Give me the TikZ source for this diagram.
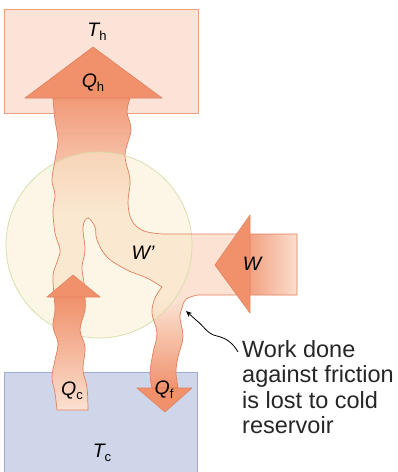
\documentclass[tikz,border=0pt]{standalone}
\usepackage{fontspec}
\setmainfont{Liberation Sans}
\usetikzlibrary{arrows.meta}
\definecolor{salmon}{RGB}{240,145,108}
\definecolor{salmonedge}{RGB}{226,128,94}
\definecolor{lightpk}{RGB}{251,226,210}
\definecolor{hotfill}{RGB}{251,227,215}
\definecolor{hotedge}{RGB}{236,160,130}
\definecolor{coldfill}{RGB}{207,214,233}
\definecolor{coldedge}{RGB}{158,172,206}
\definecolor{ringfill}{RGB}{250,238,208}
\definecolor{ringedge}{RGB}{214,221,166}
\newcommand{\lbl}[2]{{\fontsize{19.5}{19.5}\selectfont\itshape #1}\raisebox{-3.5pt}{\fontsize{13}{13}\selectfont #2}}
\newcommand{\engoutline}{plot[smooth,tension=0.6] coordinates {(57,410) (55,393) (52,377) (55,360) (58,343) (53,327) (55,310) (54,295) (53,275) (57,262) (60,250) (55,233) (53,210) (55,195) (52,180) (55,160) (58,140) (55,120) (53,98)}
 -- (130,98)
 -- plot[smooth,tension=0.6] coordinates {(130,98) (127,112) (131,130) (125,155) (130,180) (128,203) (132,221) (144,231) (163,234)}
 -- (297,234) -- (297,295) -- (198,295)
 -- plot[smooth,tension=0.6] coordinates {(198,295) (186,299) (182,308) (180,318) (183,337) (178,357) (176,372) (178,388)}
 -- (152,388)
 -- plot[smooth,tension=0.6] coordinates {(152,388) (150,373) (153,353) (157,333) (152,313) (155,298) (162,287)}
 -- plot[smooth,tension=0.6] coordinates {(162,287) (147,278) (127,270) (107,257) (97,240) (95,227) (88,218) (83,227) (85,250) (82,267) (84,283) (85,297) (85,310) (80,330) (85,347) (83,370) (87,387) (88,410)}
 -- cycle}
\tikzset{
  reservoirhot/.style={fill=hotfill, draw=hotedge, line width=0.9pt},
  reservoircold/.style={fill=coldfill, draw=coldedge, line width=0.9pt},
  headshape/.style={fill=salmon, draw=salmonedge, line width=0.6pt, line join=round},
  lab/.style={inner sep=0pt, text=black},
  note/.style={inner sep=0pt, align=left, font=\fontsize{23.5}{25.5}\selectfont, text=black!85}
}
\begin{document}
\begin{tikzpicture}[x=1pt,y=-1pt]
\useasboundingbox (0,0) rectangle (398,472);
\fill[white] (0,0) rectangle (398,472);
% reservoirs
\path[reservoirhot] (4,9) rectangle (198,113);
\path[reservoircold] (4,372) rectangle (197,476);
% engine flow body
\fill[lightpk] \engoutline;
\begin{scope}
  \clip \engoutline;
  \shade[top color=salmon!92!white, bottom color=lightpk] (40,98) rectangle (140,215);
  \shade[top color=lightpk, bottom color=salmon] (140,300) rectangle (195,390);
  \shade[left color=salmon!85!white, right color=lightpk] (250,230) rectangle (300,300);
\end{scope}
% engine ring
\path[fill=ringfill, fill opacity=0.5, draw=ringedge, draw opacity=0.9, line width=0.8pt] (99,245) circle[radius=93];
\begin{scope}
  \clip \engoutline;
  \shade[top color=salmon, bottom color=lightpk] (45,297) rectangle (95,412);
\end{scope}
\draw[salmonedge, line width=0.7pt, line join=round] \engoutline;
% arrow heads
\path[headshape] (25,98) -- (93,47) -- (162,98) -- cycle;
\path[headshape] (250,215) -- (215,265) -- (250,313) -- cycle;
\path[headshape] (47,297) -- (73,275) -- (100,297) -- cycle;
\path[headshape] (137,388) -- (165,412) -- (192,388) -- cycle;
% labels
\node[lab] (th) at (97,32) {\lbl{T}{h}};
\node[lab] (qh) at (93,83) {\lbl{Q}{h}};
\node[lab] (wp) at (143,253) {{\fontsize{19.5}{19.5}\selectfont\itshape W’}};
\node[lab] (w) at (252,264) {{\fontsize{19.5}{19.5}\selectfont\itshape W}};
\node[lab] (qc) at (72,391) {\lbl{Q}{c}};
\node[lab] (qf) at (164,390) {\lbl{Q}{f}};
\node[lab] (tc) at (102,453) {\lbl{T}{c}};
% annotation
\node[note, anchor=north west] (txt) at (242,340) {Work done\\against friction\\is lost to cold\\reservoir};
\coordinate (tail) at (238,352);
\coordinate (tip) at (186,311);
\draw[black, line width=0.8pt, -{Stealth[length=6pt,width=5pt]}] (tail) .. controls (233,343) and (226,338) .. (217,336) .. controls (207,334) and (204,326) .. (196,320) -- (tip);
\end{tikzpicture}
\end{document}
